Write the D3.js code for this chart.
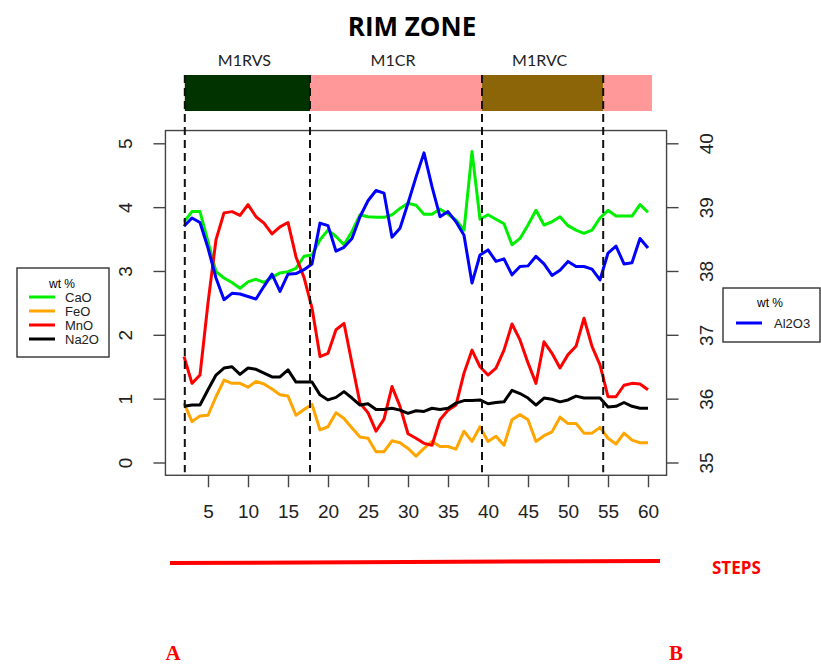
<!DOCTYPE html>
<html>
<head>
<meta charset="utf-8">
<script src="https://cdn.jsdelivr.net/npm/d3@7/dist/d3.min.js"></script>
<style>
body { margin: 0; background: #fff; }
svg text { font-family: "Liberation Sans", Arial, sans-serif; }
</style>
</head>
<body>
<div id="chart"></div>
<script>
// analysis steps along the traverse A -> B
const steps = [2,3,4,5,6,7,8,9,10,11,12,13,14,15,16,17,18,19,20,21,22,23,24,25,26,27,28,29,30,31,
	32,33,34,35,36,37,38,39,40,41,42,43,44,45,46,47,48,49,50,51,52,53,54,55,56,57,58,59,60];

// wt % values (left axis)
const cao = [3.77,3.93,3.93,3.46,2.99,2.89,2.82,2.73,2.83,2.87,2.82,2.90,2.97,2.99,3.04,3.23,3.25,3.49,3.64,3.54,
	3.41,3.62,3.88,3.85,3.84,3.84,3.88,3.98,4.06,4.03,3.89,3.89,3.97,3.89,3.80,3.64,4.87,3.81,3.88,3.81,
	3.74,3.41,3.51,3.72,3.95,3.72,3.77,3.85,3.71,3.64,3.59,3.64,3.83,3.95,3.86,3.86,3.86,4.04,3.92];
const feo = [0.93,0.64,0.73,0.74,1.03,1.29,1.24,1.24,1.18,1.27,1.23,1.15,1.06,1.04,0.74,0.83,0.91,0.51,0.56,0.78,
	0.69,0.54,0.40,0.38,0.17,0.17,0.34,0.31,0.22,0.10,0.22,0.33,0.25,0.25,0.21,0.49,0.33,0.56,0.33,0.41,
	0.27,0.67,0.75,0.67,0.33,0.42,0.48,0.71,0.61,0.61,0.46,0.46,0.55,0.38,0.29,0.46,0.35,0.31,0.31];
const mno = [1.66,1.24,1.37,2.50,3.49,3.91,3.93,3.87,4.04,3.85,3.75,3.58,3.69,3.76,3.22,2.90,2.42,1.66,1.71,2.08,
	2.18,1.55,0.93,0.78,0.49,0.68,1.19,0.88,0.45,0.38,0.30,0.27,0.67,0.82,0.90,1.40,1.76,1.50,1.37,1.48,
	1.76,2.17,1.92,1.56,1.24,1.89,1.71,1.48,1.69,1.82,2.26,1.82,1.53,1.03,1.03,1.21,1.24,1.23,1.14];
const na2o = [0.88,0.90,0.90,1.14,1.37,1.48,1.50,1.38,1.48,1.46,1.40,1.34,1.34,1.45,1.26,1.26,1.26,1.06,0.98,1.02,
	1.11,1.01,0.90,0.92,0.83,0.83,0.85,0.82,0.77,0.81,0.80,0.85,0.83,0.85,0.93,0.97,0.97,0.98,0.92,0.94,
	0.95,1.13,1.08,1.01,0.90,1.01,0.99,0.95,0.98,1.04,1.01,1.01,1.01,0.87,0.88,0.94,0.88,0.85,0.85];
// right axis
const al2o3 = [38.70,38.83,38.76,38.36,37.89,37.55,37.65,37.64,37.60,37.56,37.76,37.95,37.68,37.95,37.96,38.02,38.11,38.75,38.71,38.31,
	38.37,38.51,38.85,39.10,39.26,39.22,38.53,38.67,39.06,39.47,39.85,39.32,38.85,38.93,38.77,38.56,37.81,38.25,38.33,38.15,
	38.19,37.94,38.07,38.08,38.23,38.11,37.93,38.01,38.15,38.07,38.07,38.03,37.86,38.28,38.39,38.11,38.13,38.51,38.36];

const leftNames = ["CaO", "FeO", "MnO", "Na2O"];
const leftColors = ["#00ee00", "#ffa500", "#ff0000", "#000000"];

// zones along the traverse (edges in step units)
const zoneNames = ["M1RVS", "M1CR", "M1RVC", ""];
const zoneEdges = [2.1, 17.75, 39.25, 54.4, 60.5];
const zoneColors = ["#003300", "#ff9999", "#8b6508", "#ff9999"];

const xTicks = [5,10,15,20,25,30,35,40,45,50,55,60];
const leftTicks = [0,1,2,3,4,5];
const rightTicks = [35,36,37,38,39,40];

function renderRimZone() {
	const width = 821;
	const height = 664;

	const svg = d3.select("#chart")
		.append("svg")
		.attr("width", width)
		.attr("height", height);

	// scales (R style: 4% padding around the data range)
	const x = d3.scaleLinear().domain([2, 60]).range([184, 648]);
	const yL = d3.scaleLinear().domain([0, 5]).range([462.5, 143.3]);
	const yR = d3.scaleLinear().domain([35, 40]).range([462.5, 143.3]);

	const pad = 0.04 * 58;
	const bx0 = x(2 - pad), bx1 = x(60 + pad);
	const by0 = yL(5.2), by1 = yL(-0.2);

	// title
	svg.append("text")
		.attr("x", 412)
		.attr("y", 36)
		.attr("text-anchor", "middle")
		.style("font-family", "'Open Sans', sans-serif")
		.style("font-weight", "bold")
		.style("font-size", "26px")
		.text("RIM ZONE");

	// zone bar
	const barTop = 75, barH = 36;
	zoneNames.forEach((name, i) => {
		svg.append("rect")
			.attr("x", x(zoneEdges[i]))
			.attr("y", barTop)
			.attr("width", x(zoneEdges[i + 1]) - x(zoneEdges[i]))
			.attr("height", barH)
			.attr("fill", zoneColors[i]);
		if (name) {
			svg.append("text")
				.attr("x", (x(zoneEdges[i]) + x(zoneEdges[i + 1])) / 2 - 3)
				.attr("y", 66)
				.attr("text-anchor", "middle")
				.style("font-family", "Lato, sans-serif")
				.style("font-size", "16px")
				.attr("fill", "#222")
				.text(name);
		}
	});

	// plot box
	svg.append("rect")
		.attr("x", bx0)
		.attr("y", by0)
		.attr("width", bx1 - bx0)
		.attr("height", by1 - by0)
		.attr("fill", "none")
		.attr("stroke", "#444")
		.attr("stroke-width", 1.4);

	// axes
	const fmt = d3.format("d");
	const styleAxis = g => {
		g.select(".domain").remove();
		g.selectAll(".tick line").attr("stroke", "#444").attr("stroke-width", 1.4);
		g.selectAll("text").style("font-size", "19px").attr("fill", "#222");
	};

	svg.append("g")
		.attr("transform", `translate(0,${by1})`)
		.call(d3.axisBottom(x).tickValues(xTicks).tickFormat(fmt).tickSize(12).tickSizeOuter(0).tickPadding(17))
		.call(styleAxis);

	svg.append("g")
		.attr("transform", `translate(${bx0},0)`)
		.call(d3.axisLeft(yL).tickValues(leftTicks).tickFormat(fmt).tickSize(12).tickSizeOuter(0))
		.call(styleAxis)
		.call(g => g.selectAll("text")
			.attr("transform", "rotate(-90)")
			.attr("x", 0).attr("y", -33).attr("dy", 0)
			.attr("text-anchor", "middle"));

	svg.append("g")
		.attr("transform", `translate(${bx1},0)`)
		.call(d3.axisRight(yR).tickValues(rightTicks).tickFormat(fmt).tickSize(12).tickSizeOuter(0))
		.call(styleAxis)
		.call(g => g.selectAll("text")
			.attr("transform", "rotate(-90)")
			.attr("x", 0).attr("y", 46).attr("dy", 0)
			.attr("text-anchor", "middle"));

	// series lines
	const lineL = d3.line().x((d, i) => x(steps[i])).y(d => yL(d));
	const lineR = d3.line().x((d, i) => x(steps[i])).y(d => yR(d));

	[cao, feo, mno, na2o].forEach((series, k) => {
		svg.append("path")
			.datum(series)
			.attr("d", lineL)
			.attr("fill", "none")
			.attr("stroke", leftColors[k])
			.attr("stroke-width", 3)
			.attr("stroke-linejoin", "round");
	});

	svg.append("path")
		.datum(al2o3)
		.attr("d", lineR)
		.attr("fill", "none")
		.attr("stroke", "#0000ff")
		.attr("stroke-width", 3)
		.attr("stroke-linejoin", "round");

	// zone boundaries
	zoneEdges.slice(0, 4).forEach(e => {
		svg.append("line")
			.attr("x1", x(e)).attr("x2", x(e))
			.attr("y1", barTop).attr("y2", by1 - 3)
			.attr("stroke", "#111")
			.attr("stroke-width", 2)
			.attr("stroke-dasharray", "8,5");
	});

	// left legend
	const lg = svg.append("g");
	lg.append("rect")
		.attr("x", 17).attr("y", 268).attr("width", 92).attr("height", 89)
		.attr("fill", "#fff").attr("stroke", "#333").attr("stroke-width", 1.4);
	lg.append("text")
		.attr("x", 62).attr("y", 288)
		.attr("text-anchor", "middle")
		.style("font-size", "12px")
		.text("wt %");
	leftNames.forEach((name, i) => {
		const yy = 297 + i * 14;
		lg.append("line")
			.attr("x1", 29).attr("x2", 55).attr("y1", yy).attr("y2", yy)
			.attr("stroke", leftColors[i]).attr("stroke-width", 3);
		lg.append("text")
			.attr("x", 65).attr("y", yy + 4.5)
			.style("font-size", "13px")
			.attr("fill", "#222")
			.text(name);
	});

	// right legend
	const rg = svg.append("g");
	rg.append("rect")
		.attr("x", 723).attr("y", 288).attr("width", 97).attr("height", 54)
		.attr("fill", "#fff").attr("stroke", "#333").attr("stroke-width", 1.4);
	rg.append("text")
		.attr("x", 770).attr("y", 307)
		.attr("text-anchor", "middle")
		.style("font-size", "12px")
		.text("wt %");
	rg.append("line")
		.attr("x1", 736).attr("x2", 762).attr("y1", 323).attr("y2", 323)
		.attr("stroke", "#0000ff").attr("stroke-width", 3);
	rg.append("text")
		.attr("x", 774).attr("y", 327.5)
		.style("font-size", "13px")
		.attr("fill", "#222")
		.text("Al2O3");

	// traverse line A -> B
	svg.append("line")
		.attr("x1", x(0.25)).attr("y1", 563)
		.attr("x2", x(61.5)).attr("y2", 561)
		.attr("stroke", "#ff0000")
		.attr("stroke-width", 4);
	svg.append("text")
		.attr("x", 712).attr("y", 574)
		.style("font-family", "'Open Sans', sans-serif")
		.style("font-weight", "bold")
		.style("font-size", "17px")
		.attr("fill", "#ff0000")
		.text("STEPS");
	[["A", 173], ["B", 676]].forEach(([t, px]) => {
		svg.append("text")
			.attr("x", px).attr("y", 660)
			.attr("text-anchor", "middle")
			.style("font-family", "'Liberation Serif', 'Times New Roman', serif")
			.style("font-weight", "bold")
			.style("font-size", "21px")
			.attr("fill", "#ff0000")
			.text(t);
	});
}

renderRimZone();
</script>
</body>
</html>
